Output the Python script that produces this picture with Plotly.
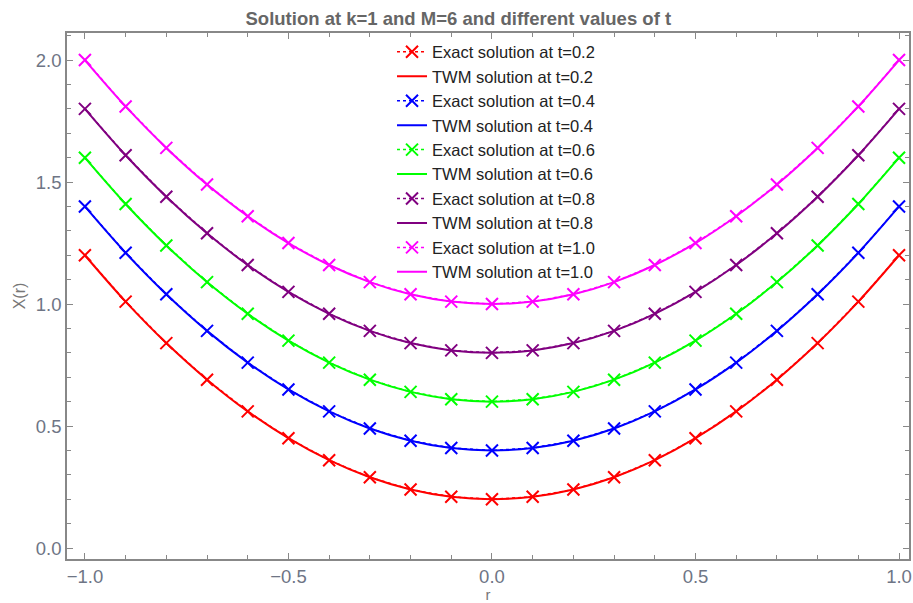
import plotly.graph_objects as go

r_vals = [-1.0, -0.9, -0.8, -0.7, -0.6, -0.5, -0.4, -0.3, -0.2, -0.1, 0.0,
          0.1, 0.2, 0.3, 0.4, 0.5, 0.6, 0.7, 0.8, 0.9, 1.0]

t_labels = ["0.2", "0.4", "0.6", "0.8", "1.0"]

x_t02 = [1.20, 1.01, 0.84, 0.69, 0.56, 0.45, 0.36, 0.29, 0.24, 0.21, 0.20,
         0.21, 0.24, 0.29, 0.36, 0.45, 0.56, 0.69, 0.84, 1.01, 1.20]
x_t04 = [1.40, 1.21, 1.04, 0.89, 0.76, 0.65, 0.56, 0.49, 0.44, 0.41, 0.40,
         0.41, 0.44, 0.49, 0.56, 0.65, 0.76, 0.89, 1.04, 1.21, 1.40]
x_t06 = [1.60, 1.41, 1.24, 1.09, 0.96, 0.85, 0.76, 0.69, 0.64, 0.61, 0.60,
         0.61, 0.64, 0.69, 0.76, 0.85, 0.96, 1.09, 1.24, 1.41, 1.60]
x_t08 = [1.80, 1.61, 1.44, 1.29, 1.16, 1.05, 0.96, 0.89, 0.84, 0.81, 0.80,
         0.81, 0.84, 0.89, 0.96, 1.05, 1.16, 1.29, 1.44, 1.61, 1.80]
x_t10 = [2.00, 1.81, 1.64, 1.49, 1.36, 1.25, 1.16, 1.09, 1.04, 1.01, 1.00,
         1.01, 1.04, 1.09, 1.16, 1.25, 1.36, 1.49, 1.64, 1.81, 2.00]

series = [x_t02, x_t04, x_t06, x_t08, x_t10]
colors = ["#FF0000", "#0000FF", "#00FF00", "#800080", "#FF00FF"]

fig = go.Figure()
for i, (vals, col, tl) in enumerate(zip(series, colors, t_labels)):
    fig.add_trace(go.Scatter(
        x=r_vals, y=vals, mode="lines+markers",
        name=f"Exact solution at t={tl}",
        line=dict(color=col, width=1.5, dash="dot"),
        marker=dict(symbol="x-thin-open", size=12, color=col,
                    line=dict(color=col, width=2)),
        legendgroup=f"e{i}",
    ))
    fig.add_trace(go.Scatter(
        x=r_vals, y=vals, mode="lines",
        name=f"TWM solution at t={tl}",
        line=dict(color=col, width=2, shape="spline"),
        legendgroup=f"w{i}",
    ))

axis_common = dict(
    showline=True, linecolor="#888888", linewidth=1.5, mirror="ticks",
    ticks="inside", ticklen=6, tickcolor="#888888", tickwidth=1,
    showgrid=False, zeroline=False,
    tickfont=dict(family="Liberation Sans", size=18.5, color="#6e7585"),
)

fig.update_layout(
    width=913, height=603,
    margin=dict(l=67, r=2, t=33, b=44),
    paper_bgcolor="white", plot_bgcolor="white",
    title=dict(text="<b>Solution at k=1 and M=6 and different values of t</b>",
               x=0.502, xanchor="center", y=0.97, yanchor="middle",
               font=dict(family="Liberation Sans", size=18.5, color="#666666")),
    font=dict(family="Liberation Sans", size=16.5, color="#222222"),
    legend=dict(x=0.386, y=0.997, xanchor="left", yanchor="top",
                bgcolor="rgba(0,0,0,0)", tracegroupgap=0,
                font=dict(family="Liberation Sans", size=16.5, color="#222222")),
    xaxis=dict(range=[-1.044, 1.0245], tickvals=[-1.0, -0.5, 0.0, 0.5, 1.0],
               ticktext=["\u22121.0", "\u22120.5", "0.0", "0.5", "1.0"],
               minor=dict(dtick=0.1, ticks="inside", ticklen=4, tickcolor="#888888"),
               title=dict(text="r", standoff=2,
                          font=dict(family="Liberation Sans", size=15, color="#777777")),
               **axis_common),
    yaxis=dict(range=[-0.045, 2.111], tickvals=[0.0, 0.5, 1.0, 1.5, 2.0],
               tickformat=".1f",
               minor=dict(dtick=0.1, ticks="inside", ticklen=4, tickcolor="#888888"),
               title=dict(text="X(r)", standoff=6,
                          font=dict(family="Liberation Sans", size=16, color="#777777")),
               **axis_common),
)

fig.write_html("out.html")
